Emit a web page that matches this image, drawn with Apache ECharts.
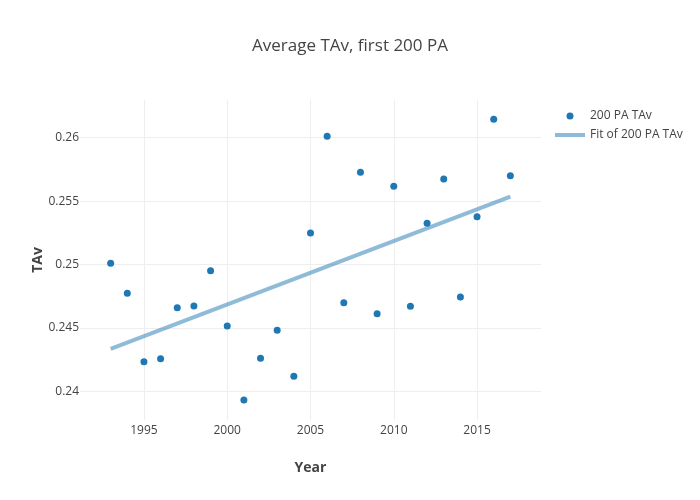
<!DOCTYPE html>
<html>
<head>
<meta charset="utf-8">
<script src="https://cdn.jsdelivr.net/npm/echarts@6/dist/echarts.min.js"></script>
<style>html,body{margin:0;padding:0;background:#fff}#c{width:700px;height:500px}</style>
</head>
<body>
<div id="c"></div>
<script>
const years = [1993,1994,1995,1996,1997,1998,1999,2000,2001,2002,2003,2004,2005,2006,2007,2008,2009,2010,2011,2012,2013,2014,2015,2016,2017];
const tav = [0.25009,0.24773,0.24233,0.24257,0.24659,0.24673,0.24951,0.24515,0.23931,0.2426,0.24481,0.24118,0.25248,0.26011,0.24699,0.25727,0.24612,0.25617,0.2467,0.25325,0.25674,0.24744,0.25377,0.26145,0.257];
const fitYears = [1993, 2017];
const fitValues = [0.24334, 0.25535];
const xTicks = [1995, 2000, 2005, 2010, 2015];
const yTicks = [0.24, 0.245, 0.25, 0.255, 0.26];

const font = '"Open Sans", "Noto Sans", sans-serif';
const chart = echarts.init(document.getElementById('c'), null, {renderer: 'canvas'});
chart.setOption({
  animation: false,
  backgroundColor: '#fff',
  title: {
    text: 'Average TAv, first 200 PA',
    left: 'center',
    top: 33,
    textStyle: {fontFamily: font, fontSize: 17, fontWeight: 'normal', color: '#444'}
  },
  legend: [
    {
      data: [{name: '200 PA TAv', icon: 'circle'}],
      left: 561.5, top: 105,
      itemWidth: 7, itemHeight: 7,
      textStyle: {fontFamily: font, fontSize: 12, color: '#444', padding: [0, 0, 0, 11.5]}
    },
    {
      data: [{name: 'Fit of 200 PA TAv', icon: 'rect'}],
      left: 550, top: 124,
      itemWidth: 30, itemHeight: 4,
      textStyle: {fontFamily: font, fontSize: 12, color: '#444'}
    }
  ],
  grid: {left: 80, right: 159, top: 100, bottom: 80, containLabel: false},
  xAxis: {
    type: 'value',
    min: 1991.16, max: 2018.84,
    name: 'Year', nameLocation: 'middle', nameGap: 41, nameMoveOverlap: false,
    nameTextStyle: {fontFamily: font, fontSize: 14, fontWeight: 'bold', color: '#444'},
    axisLine: {show: false},
    axisTick: {show: false, customValues: xTicks},
    axisLabel: {customValues: xTicks, margin: 5, fontFamily: font, fontSize: 12, color: '#444',
      formatter: v => String(v)},
    splitLine: {show: true, lineStyle: {color: '#eeeeee', width: 1}}
  },
  yAxis: {
    type: 'value',
    min: 0.23774, max: 0.26297,
    name: 'TAv', nameLocation: 'middle', nameGap: 35, nameRotate: 90, nameMoveOverlap: false,
    nameTextStyle: {fontFamily: font, fontSize: 14, fontWeight: 'bold', color: '#444'},
    axisLine: {show: false},
    axisTick: {show: false, customValues: yTicks},
    axisLabel: {customValues: yTicks, margin: 1, fontFamily: font, fontSize: 12, color: '#444',
      formatter: v => String(v)},
    splitLine: {show: true, lineStyle: {color: '#eeeeee', width: 1}}
  },
  series: [
    {
      name: '200 PA TAv',
      type: 'scatter',
      symbolSize: 7,
      itemStyle: {color: '#1f77b4', opacity: 1},
      data: years.map((y, i) => [y, tav[i]]),
      z: 3
    },
    {
      name: 'Fit of 200 PA TAv',
      type: 'line',
      showSymbol: false,
      itemStyle: {color: 'rgba(31,119,180,0.5)'},
      lineStyle: {color: 'rgba(31,119,180,0.5)', width: 4},
      data: fitYears.map((y, i) => [y, fitValues[i]]),
      z: 2
    }
  ]
});
</script>
</body>
</html>
